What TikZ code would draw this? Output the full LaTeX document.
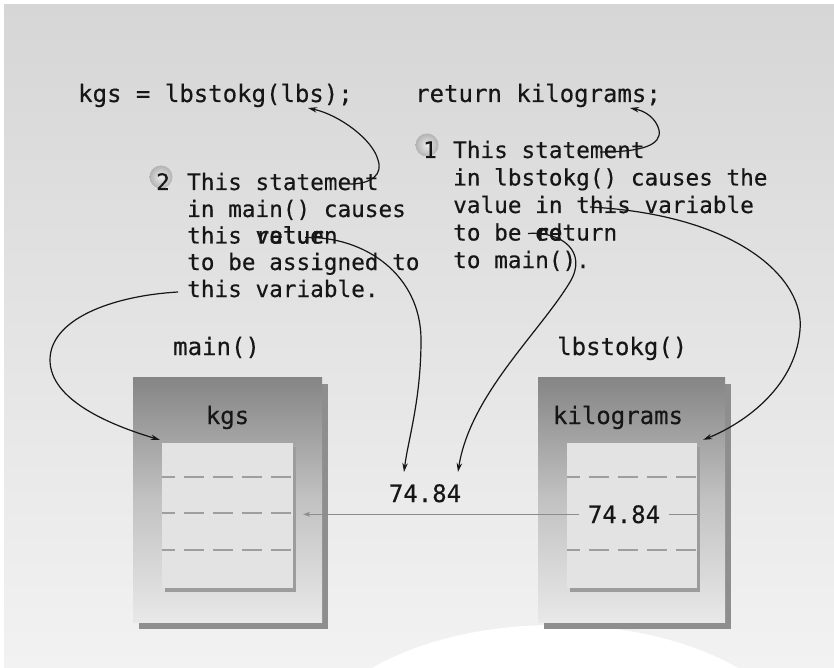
\documentclass[tikz,border=0pt]{standalone}
\usepackage{fontspec}
\newfontfamily\dvmono[FakeBold=0.35]{DejaVu Sans Mono}
\usetikzlibrary{arrows.meta,calc,shadows}
\definecolor{bgtop}{HTML}{D6D6D6}
\definecolor{bgbot}{HTML}{F2F2F2}
\definecolor{ink}{HTML}{161616}
\definecolor{boxtop}{HTML}{858585}
\definecolor{boxmid}{HTML}{C2C2C2}
\definecolor{boxbot}{HTML}{E8E8E8}
\definecolor{panelfill}{HTML}{E3E3E3}
\definecolor{shadowgray}{HTML}{8E8E8E}
\definecolor{panelshadow}{HTML}{9C9C9C}
\definecolor{dashgray}{HTML}{9E9E9E}
\definecolor{linkgray}{HTML}{8C8C8C}
\begin{document}
\begin{tikzpicture}[x=1pt,y=-1pt,
  txt/.style={font=\dvmono\fontsize{22.7pt}{27pt}\selectfont, text=ink, inner sep=0pt, anchor=base west},
  big/.style={font=\dvmono\fontsize{24pt}{28pt}\selectfont, text=ink, inner sep=0pt},
  membox/.style={draw=none, minimum width=189pt, minimum height=245pt,
    top color=boxtop, bottom color=boxbot, middle color=boxmid,
    drop shadow={shadow xshift=6pt, shadow yshift=-7pt, fill=shadowgray, opacity=1}},
  panel/.style={draw=none, fill=panelfill, minimum width=131pt, minimum height=145pt,
    drop shadow={shadow xshift=3pt, shadow yshift=-4pt, fill=panelshadow, opacity=1}},
  dashrow/.style={draw=dashgray, line width=2pt, dash pattern=on 20pt off 9pt, dash phase=7pt},
  numball/.style={circle, minimum size=23pt, inner sep=0pt, draw=none, inner color=gray!15, outer color=gray!60},
  link/.style={draw=ink, line width=1.2pt, -{Stealth[length=9pt,width=5.5pt]}},
  flow/.style={draw=linkgray, line width=1.5pt, -{Stealth[length=7pt,width=5pt]}},
  flowline/.style={draw=linkgray, line width=1.5pt}
]
\useasboundingbox (0,0) rectangle (834,668);
% background
\fill[white] (0,0) rectangle (834,668);
\shade[top color=bgtop, bottom color=bgbot] (4,5) rectangle (834,668);
\begin{scope}
  \clip (0,0) rectangle (834,668);
  \fill[white] (555,760) ellipse [x radius=250pt, y radius=135pt];
\end{scope}

% memory boxes
\node[membox] (lbox) at (227.5,499.5) {};
\node[membox, minimum width=187pt] (rbox) at (631.5,499.5) {};
\node[panel] (lpanel) at (227.5,515.5) {};
\node[panel, minimum width=130pt] (rpanel) at (632,515.5) {};

\draw[dashrow] ($(lpanel.north west)+(0,34)$) -- ($(lpanel.north east)+(0,34)$);
\draw[dashrow] ($(lpanel.north west)+(0,70)$) -- ($(lpanel.north east)+(0,70)$);
\draw[dashrow] ($(lpanel.north west)+(0,107)$) -- ($(lpanel.north east)+(0,107)$);
\draw[dashrow] ($(rpanel.north west)+(0,34)$) -- ($(rpanel.north east)+(0,34)$);
\draw[dashrow] ($(rpanel.north west)+(0,107)$) -- ($(rpanel.north east)+(0,107)$);

\node[big, anchor=base] (kgslab) at (227.5,424) {kgs};
\node[big, anchor=base] (kglab) at (618,424) {kilograms};
\node[big, anchor=base west] (mainlab) at (173,355) {main()};
\node[big, anchor=base west] (lbslab) at (557,355) {lbstokg()};
\node[big, anchor=base] (val1) at (425,502) {74.84};
\node[big, anchor=base, inner xsep=9pt] (val2) at (624,523) {74.84};

\draw[flow] (val2.west) -- ($(lpanel.east |- val2.west)+(10,0)$);
\draw[flowline] (val2.east) -- (rpanel.east |- val2.east);

% code lines
\node[big, anchor=base west] (code1) at (78,102) {kgs = lbstokg(lbs);};
\node[big, anchor=base west] (code2) at (415,102) {return kilograms;};

% number balls
\node[numball] (ball2) at (161,177) {};
\node[numball] (ball1) at (427,145) {};

% left note
\node[txt] (n2) at (156,190) {2};
\node[txt] (l1) at (187,190) {This statement};
\node[txt] (l2) at (187,217) {in main() causes};
\node[txt] (l3) at (187,243.5) {this value};
\node[txt] (l3b) at (255.4,243.5) {return};
\node[txt] (l4) at (187,270) {to be assigned to};
\node[txt] (l5) at (187,297) {this variable.};

% right note
\node[txt] (n1) at (423,158) {1};
\node[txt] (r1) at (453,158) {This statement};
\node[txt] (r2) at (453,185.5) {in lbstokg() causes the};
\node[txt] (r3) at (453,213) {value in this variable};
\node[txt] (r4) at (453,240.5) {to be return};
\node[txt] (r4b) at (535,240.5) {ed};
\node[txt] (r5) at (453,268) {to main().};

% connector end points
\coordinate (s1) at ($(l1.base west)+(163,-6)$);
\coordinate (t1) at ($(code1.base west)+(230,6)$);
\coordinate (s2) at ($(r1.base west)+(147,-6)$);
\coordinate (t2) at ($(code2.base west)+(215,6)$);
\coordinate (s3) at ($(l3.base west)+(118,-6)$);
\coordinate (t3) at ($(val1.north)+(-21,-12)$);
\coordinate (s4) at ($(r4.base west)+(75,-7)$);
\coordinate (t4) at ($(val1.north)+(33,-12)$);
\coordinate (s5) at ($(l5.base west)+(-9,-5)$);
\coordinate (t5) at ($(lpanel.north west)+(-2,-3)$);
\coordinate (s6) at ($(r3.base west)+(137,-6)$);
\coordinate (t6) at ($(rpanel.north east)+(6,-3)$);

\draw[link] (s1) .. controls (372,184) and (383,174) .. (378,160) .. controls (373,140) and (340,115) .. (t1);
\draw[link] (s2) .. controls (642,152) and (662,145) .. (659,130) .. controls (656,118) and (645,111) .. (t2);
\draw[link] (s3) .. controls (365,236) and (421,275) .. (421,340) .. controls (421,400) and (408,440) .. (t3);
\draw[link] (s4) .. controls (562,231) and (588,252) .. (570,282) .. controls (540,332) and (470,395) .. (t4);
\draw[link] (s5) .. controls (110,296) and (50,320) .. (50,360) .. controls (50,400) and (110,425) .. (t5);
\draw[link] (s6) .. controls (740,215) and (805,280) .. (800,330) .. controls (795,390) and (740,425) .. (t6);
\end{tikzpicture}
\end{document}
